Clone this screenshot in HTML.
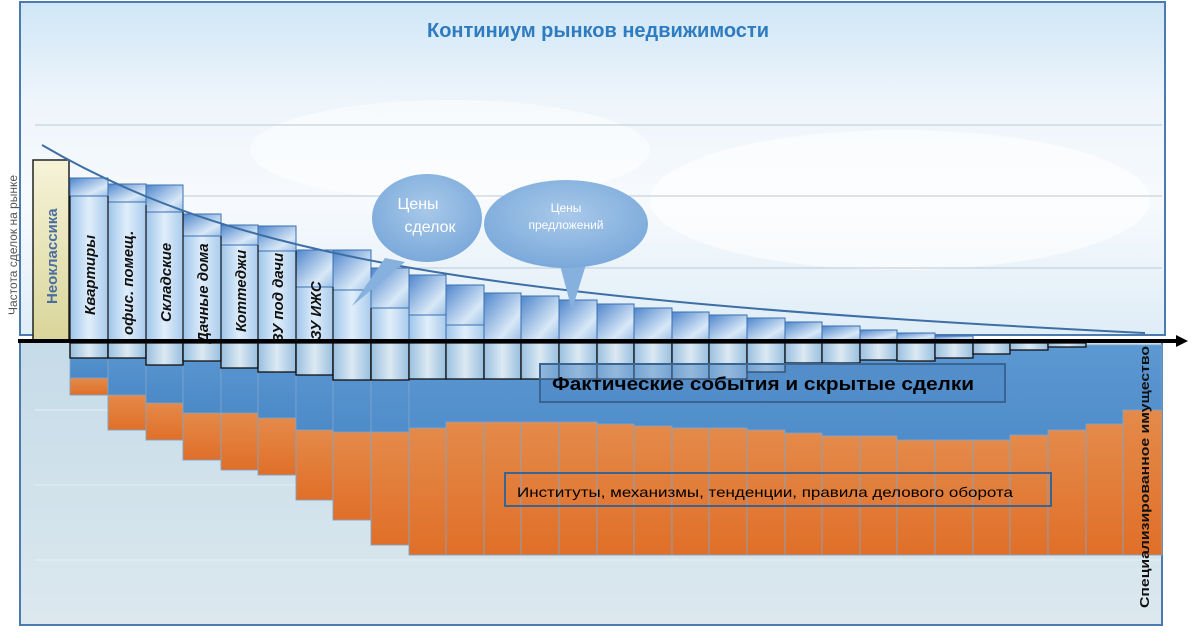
<!DOCTYPE html>
<html><head><meta charset="utf-8"><style>
body{margin:0;width:1195px;height:629px;overflow:hidden;background:#fff;font-family:"Liberation Sans",sans-serif}
</style></head><body>
<svg width="1195" height="629" viewBox="0 0 1195 629" xmlns="http://www.w3.org/2000/svg" font-family="Liberation Sans, sans-serif">
<defs>
<linearGradient id="sky" x1="0" y1="0" x2="0" y2="1">
<stop offset="0" stop-color="#cfe6f6"/><stop offset="0.3" stop-color="#eef5fb"/><stop offset="0.6" stop-color="#f7fafd"/><stop offset="1" stop-color="#dfedf7"/></linearGradient>
<linearGradient id="sea" x1="0" y1="0" x2="0" y2="1">
<stop offset="0" stop-color="#c5dbe8"/><stop offset="1" stop-color="#dce8ee"/></linearGradient>
<linearGradient id="dark" x1="0" y1="0" x2="1" y2="1">
<stop offset="0" stop-color="#4f86cc"/><stop offset="0.7" stop-color="#d8e8f7"/><stop offset="1" stop-color="#9cc0e6"/></linearGradient>
<linearGradient id="light" x1="0" y1="0" x2="1" y2="0">
<stop offset="0" stop-color="#9ec5ea"/><stop offset="0.5" stop-color="#e0eefa"/><stop offset="1" stop-color="#a9cbed"/></linearGradient>
<linearGradient id="band" x1="0" y1="0" x2="1" y2="0">
<stop offset="0" stop-color="#98bfe0"/><stop offset="0.5" stop-color="#dce9f2"/><stop offset="1" stop-color="#98bfe0"/></linearGradient>
<linearGradient id="blue" x1="0" y1="0" x2="0" y2="1">
<stop offset="0" stop-color="#5c98d2"/><stop offset="1" stop-color="#3f7fc0"/></linearGradient>
<linearGradient id="orange" x1="0" y1="0" x2="0" y2="1">
<stop offset="0" stop-color="#e48a4a"/><stop offset="1" stop-color="#e06f28"/></linearGradient>
<linearGradient id="neo" x1="0" y1="0" x2="0" y2="1">
<stop offset="0" stop-color="#f6f3d8"/><stop offset="1" stop-color="#d9d59a"/></linearGradient>
<radialGradient id="bub" cx="0.5" cy="0.4" r="0.6"><stop offset="0" stop-color="#a9c9ea"/><stop offset="1" stop-color="#7aa9da"/></radialGradient>
</defs>
<rect x="20" y="2" width="1145" height="333" fill="url(#sky)"/>
<ellipse cx="900" cy="200" rx="250" ry="70" fill="#fff" opacity="0.6"/>
<ellipse cx="450" cy="150" rx="200" ry="50" fill="#fff" opacity="0.5"/>
<rect x="20" y="342" width="1142" height="283" fill="url(#sea)"/>
<g stroke="#b9c9d6" stroke-width="1"><line x1="35" y1="125" x2="1162" y2="125"/><line x1="35" y1="196" x2="1162" y2="196"/><line x1="35" y1="268" x2="1162" y2="268"/>
<line x1="35" y1="410" x2="1162" y2="410" stroke="#e8eef2"/><line x1="35" y1="485" x2="1162" y2="485" stroke="#e8eef2"/><line x1="35" y1="560" x2="1162" y2="560" stroke="#e8eef2"/></g>
<rect x="20" y="2" width="1145" height="333" fill="none" stroke="#4a7ab0" stroke-width="2"/>
<rect x="20" y="342" width="1142" height="283" fill="none" stroke="#4a7ab0" stroke-width="2"/>
<text x="598" y="37" text-anchor="middle" font-size="20" font-weight="bold" fill="#2e7bc0">Континиум рынков недвижимости</text>
<text transform="translate(17,315) rotate(-90)" font-size="12" fill="#555">Частота сделок на рынке</text>
<rect x="33" y="160" width="36" height="180" fill="url(#neo)" stroke="#222" stroke-width="1.5"/>
<text transform="translate(57,304) rotate(-90)" font-size="15" font-weight="bold" fill="#4a6f9e">Неоклассика</text>
<g stroke="#7fa6cc" stroke-width="0.8">
<rect x="70" y="345" width="38" height="50" fill="url(#blue)"/><rect x="70" y="378" width="38" height="17" fill="url(#orange)"/>
<rect x="108" y="345" width="38" height="85" fill="url(#blue)"/><rect x="108" y="395" width="38" height="35" fill="url(#orange)"/>
<rect x="146" y="345" width="37" height="95" fill="url(#blue)"/><rect x="146" y="403" width="37" height="37" fill="url(#orange)"/>
<rect x="183" y="345" width="38" height="115" fill="url(#blue)"/><rect x="183" y="413" width="38" height="47" fill="url(#orange)"/>
<rect x="221" y="345" width="37" height="125" fill="url(#blue)"/><rect x="221" y="413" width="37" height="57" fill="url(#orange)"/>
<rect x="258" y="345" width="38" height="130" fill="url(#blue)"/><rect x="258" y="418" width="38" height="57" fill="url(#orange)"/>
<rect x="296" y="345" width="37" height="155" fill="url(#blue)"/><rect x="296" y="430" width="37" height="70" fill="url(#orange)"/>
<rect x="333" y="345" width="38" height="175" fill="url(#blue)"/><rect x="333" y="432" width="38" height="88" fill="url(#orange)"/>
<rect x="371" y="345" width="38" height="200" fill="url(#blue)"/><rect x="371" y="432" width="38" height="113" fill="url(#orange)"/>
<rect x="409" y="345" width="753" height="210" fill="url(#blue)"/>
<rect x="409" y="428" width="37" height="127" fill="url(#orange)"/>
<rect x="446" y="422" width="38" height="133" fill="url(#orange)"/>
<rect x="484" y="422" width="37" height="133" fill="url(#orange)"/>
<rect x="521" y="422" width="38" height="133" fill="url(#orange)"/>
<rect x="559" y="422" width="38" height="133" fill="url(#orange)"/>
<rect x="597" y="424" width="37" height="131" fill="url(#orange)"/>
<rect x="634" y="426" width="38" height="129" fill="url(#orange)"/>
<rect x="672" y="428" width="37" height="127" fill="url(#orange)"/>
<rect x="709" y="428" width="38" height="127" fill="url(#orange)"/>
<rect x="747" y="430" width="38" height="125" fill="url(#orange)"/>
<rect x="785" y="433" width="37" height="122" fill="url(#orange)"/>
<rect x="822" y="436" width="38" height="119" fill="url(#orange)"/>
<rect x="860" y="436" width="37" height="119" fill="url(#orange)"/>
<rect x="897" y="440" width="38" height="115" fill="url(#orange)"/>
<rect x="935" y="440" width="38" height="115" fill="url(#orange)"/>
<rect x="973" y="440" width="37" height="115" fill="url(#orange)"/>
<rect x="1010" y="435" width="38" height="120" fill="url(#orange)"/>
<rect x="1048" y="430" width="38" height="125" fill="url(#orange)"/>
<rect x="1086" y="424" width="37" height="131" fill="url(#orange)"/>
<rect x="1123" y="410" width="39" height="145" fill="url(#orange)"/>
</g>
<g stroke="#111" stroke-width="1.3" fill="url(#band)">
<rect x="70" y="343" width="38" height="15"/><rect x="108" y="343" width="38" height="15"/>
<rect x="146" y="343" width="37" height="22"/><rect x="183" y="343" width="38" height="18"/>
<rect x="221" y="343" width="37" height="25"/><rect x="258" y="343" width="38" height="29"/>
<rect x="296" y="343" width="37" height="32"/><rect x="333" y="343" width="38" height="37"/>
<rect x="371" y="343" width="38" height="37"/><rect x="409" y="343" width="37" height="36"/>
<rect x="446" y="343" width="38" height="36"/><rect x="484" y="343" width="37" height="36"/>
<rect x="521" y="343" width="38" height="36"/><rect x="559" y="343" width="38" height="36"/>
<rect x="597" y="343" width="37" height="36"/><rect x="634" y="343" width="38" height="36"/>
<rect x="672" y="343" width="37" height="36"/><rect x="709" y="343" width="38" height="36"/>
<rect x="747" y="343" width="38" height="29"/><rect x="785" y="343" width="37" height="20"/>
<rect x="822" y="343" width="38" height="20"/><rect x="860" y="343" width="37" height="17"/>
<rect x="897" y="343" width="38" height="18"/><rect x="935" y="343" width="38" height="15"/>
<rect x="973" y="343" width="37" height="11"/><rect x="1010" y="343" width="38" height="7"/>
<rect x="1048" y="343" width="38" height="4"/>
</g>
<g stroke="#3a6fb0" stroke-width="1">
<rect x="70" y="178" width="38" height="162" fill="url(#light)"/><rect x="70" y="178" width="38" height="18" fill="url(#dark)"/>
<rect x="108" y="184" width="38" height="156" fill="url(#light)"/><rect x="108" y="184" width="38" height="18" fill="url(#dark)"/>
<rect x="146" y="185" width="37" height="155" fill="url(#light)"/><rect x="146" y="185" width="37" height="27" fill="url(#dark)"/>
<rect x="183" y="214" width="38" height="126" fill="url(#light)"/><rect x="183" y="214" width="38" height="22" fill="url(#dark)"/>
<rect x="221" y="225" width="37" height="115" fill="url(#light)"/><rect x="221" y="225" width="37" height="20" fill="url(#dark)"/>
<rect x="258" y="226" width="38" height="114" fill="url(#light)"/><rect x="258" y="226" width="38" height="25" fill="url(#dark)"/>
<rect x="296" y="250" width="37" height="90" fill="url(#light)"/><rect x="296" y="250" width="37" height="37" fill="url(#dark)"/>
<rect x="333" y="250" width="38" height="90" fill="url(#light)"/><rect x="333" y="250" width="38" height="40" fill="url(#dark)"/>
<rect x="371" y="268" width="38" height="72" fill="url(#light)"/><rect x="371" y="268" width="38" height="40" fill="url(#dark)"/>
<rect x="409" y="275" width="37" height="65" fill="url(#light)"/><rect x="409" y="275" width="37" height="40" fill="url(#dark)"/>
<rect x="446" y="285" width="38" height="55" fill="url(#light)"/><rect x="446" y="285" width="38" height="40" fill="url(#dark)"/>
<rect x="484" y="293" width="37" height="47" fill="url(#dark)"/>
<rect x="521" y="296" width="38" height="44" fill="url(#dark)"/>
<rect x="559" y="300" width="38" height="40" fill="url(#dark)"/>
<rect x="597" y="304" width="37" height="36" fill="url(#dark)"/>
<rect x="634" y="308" width="38" height="32" fill="url(#dark)"/>
<rect x="672" y="312" width="37" height="28" fill="url(#dark)"/>
<rect x="709" y="315" width="38" height="25" fill="url(#dark)"/>
<rect x="747" y="318" width="38" height="22" fill="url(#dark)"/>
<rect x="785" y="322" width="37" height="18" fill="url(#dark)"/>
<rect x="822" y="326" width="38" height="14" fill="url(#dark)"/>
<rect x="860" y="330" width="37" height="10" fill="url(#dark)"/>
<rect x="897" y="333" width="38" height="7" fill="url(#dark)"/>
<rect x="935" y="336" width="38" height="4" fill="url(#dark)"/>
</g>
<g stroke="#111" stroke-width="1.2"><line x1="70" y1="196" x2="70" y2="358"/><line x1="108" y1="196" x2="108" y2="358"/><line x1="146" y1="205" x2="146" y2="358"/><line x1="183" y1="212" x2="183" y2="365"/><line x1="221" y1="236" x2="221" y2="361"/><line x1="258" y1="245" x2="258" y2="368"/><line x1="296" y1="251" x2="296" y2="372"/><line x1="333" y1="287" x2="333" y2="380"/><line x1="371" y1="308" x2="371" y2="380"/></g>
<g font-size="15" font-weight="bold" font-style="italic" fill="#111">
<text transform="translate(95,315) rotate(-90)">Квартиры</text>
<text transform="translate(133,335) rotate(-90)">офис. помещ.</text>
<text transform="translate(171,322) rotate(-90)">Складские</text>
<text transform="translate(208,343) rotate(-90)">Дачные дома</text>
<text transform="translate(246,332) rotate(-90)">Коттеджи</text>
<text transform="translate(283,343) rotate(-90)">ЗУ под дачи</text>
<text transform="translate(321,340) rotate(-90)">ЗУ  ИЖС</text>
</g>
<path d="M42,145 C230,255 470,300 1145,333" fill="none" stroke="#3d6fa6" stroke-width="2"/>
<path d="M352,306 L385,258 L405,262 Z" fill="#86b0dd"/>
<ellipse cx="427" cy="218" rx="55" ry="44" fill="url(#bub)"/>
<text x="418" y="209" text-anchor="middle" font-size="16" fill="#fff">Цены</text>
<text x="430" y="232" text-anchor="middle" font-size="16" fill="#fff">сделок</text>
<path d="M558,258 L572,310 L588,258 Z" fill="#86b0dd"/>
<ellipse cx="566" cy="224" rx="82" ry="44" fill="url(#bub)"/>
<text x="566" y="212" text-anchor="middle" font-size="12" fill="#fff">Цены</text>
<text x="566" y="229" text-anchor="middle" font-size="12" fill="#fff">предложений</text>
<line x1="18" y1="341" x2="1178" y2="341" stroke="#000" stroke-width="4"/>
<path d="M1176,335 L1188,341 L1176,347 Z" fill="#000"/>
<rect x="540" y="364" width="465" height="38" fill="#4d88c6" fill-opacity="0.5" stroke="#3a6592" stroke-width="2"/>
<text x="552" y="390" font-size="18" font-weight="bold" fill="#000" textLength="422" lengthAdjust="spacingAndGlyphs">Фактические события и скрытые сделки</text>
<rect x="505" y="473" width="546" height="33" fill="none" stroke="#3a6592" stroke-width="2"/>
<text x="517" y="497" font-size="14" fill="#000" textLength="496" lengthAdjust="spacingAndGlyphs">Институты, механизмы, тенденции, правила делового оборота</text>
<text transform="translate(1149,608) rotate(-90)" font-size="13" font-weight="bold" fill="#111" textLength="262" lengthAdjust="spacingAndGlyphs">Специализированное имущество</text>
</svg>
</body></html>
